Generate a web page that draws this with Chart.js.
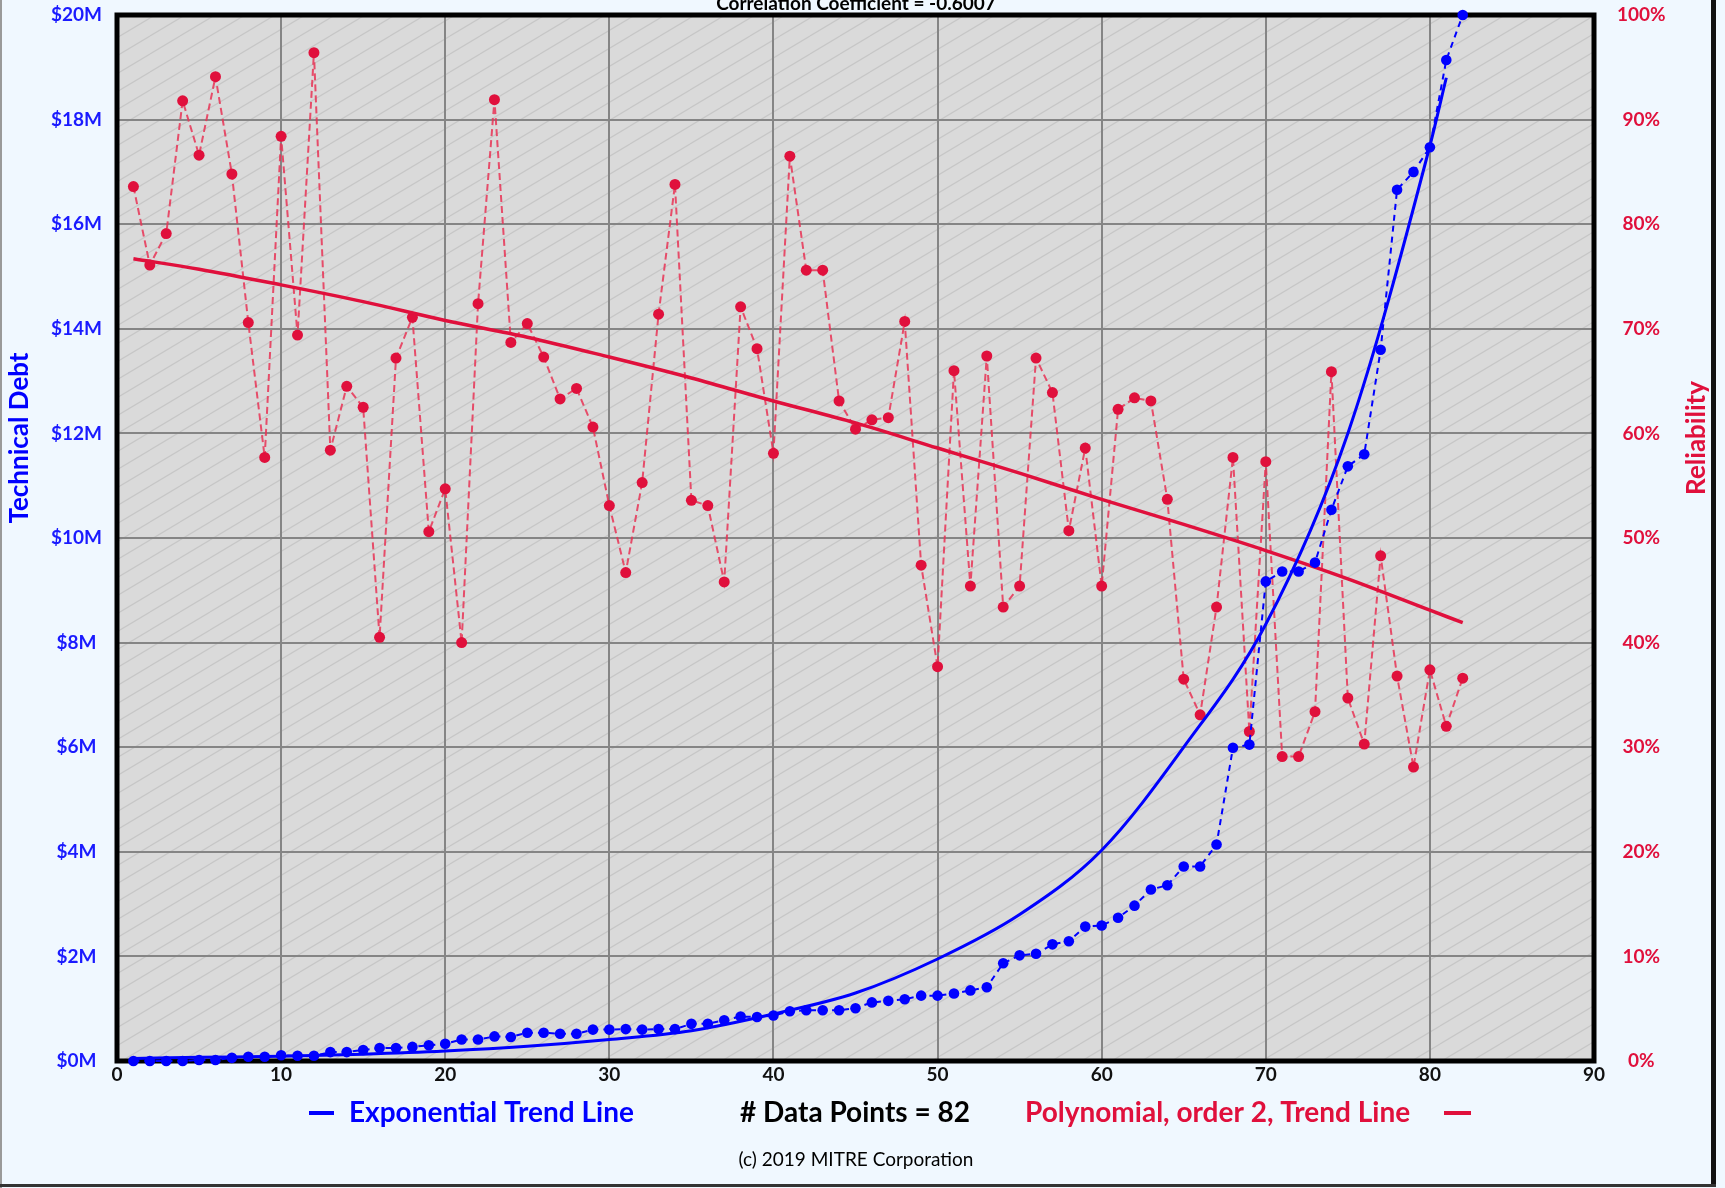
<!DOCTYPE html>
<html>
<head>
<meta charset="utf-8">
<script src="https://cdn.jsdelivr.net/npm/chart.js@4.4.1/dist/chart.umd.min.js"></script>
<style>
  html, body { margin: 0; padding: 0; background: #f0f8ff; }
  canvas { display: block; }
</style>
</head>
<body>
<canvas id="debtChart" width="1725" height="1188"></canvas>
<script>
// ===== data (one value per data point, points numbered 1..82) =====
const debtMillions = [
  0.00, 0.00, 0.00, 0.00, 0.02, 0.02, 0.06, 0.08, 0.08, 0.11,
  0.10, 0.10, 0.17, 0.17, 0.21, 0.25, 0.25, 0.27, 0.30, 0.33,
  0.41, 0.41, 0.47, 0.46, 0.54, 0.54, 0.52, 0.52, 0.60, 0.60,
  0.61, 0.60, 0.61, 0.61, 0.71, 0.71, 0.78, 0.85, 0.84, 0.87,
  0.95, 0.97, 0.97, 0.97, 1.01, 1.12, 1.15, 1.18, 1.25, 1.25,
  1.29, 1.35, 1.41, 1.87, 2.02, 2.05, 2.23, 2.29, 2.57, 2.59,
  2.74, 2.97, 3.28, 3.36, 3.72, 3.72, 4.14, 5.99, 6.05, 9.17,
  9.36, 9.36, 9.53, 10.54, 11.37, 11.60, 13.60, 16.66, 17.00, 17.47,
  19.14, 20.00
];
const reliabilityPct = [
  83.6, 76.1, 79.1, 91.8, 86.6, 94.1, 84.8, 70.6, 57.7, 88.4,
  69.4, 96.4, 58.4, 64.5, 62.5, 40.5, 67.2, 71.1, 50.6, 54.7,
  40.0, 72.4, 91.9, 68.7, 70.5, 67.3, 63.3, 64.3, 60.6, 53.1,
  46.7, 55.3, 71.4, 83.8, 53.6, 53.1, 45.8, 72.1, 68.1, 58.1,
  86.5, 75.6, 75.6, 63.1, 60.4, 61.3, 61.5, 70.7, 47.4, 37.7,
  66.0, 45.4, 67.4, 43.4, 45.4, 67.2, 63.9, 50.7, 58.6, 45.4,
  62.3, 63.4, 63.1, 53.7, 36.5, 33.1, 43.4, 57.7, 31.5, 57.3,
  29.1, 29.1, 33.4, 65.9, 34.7, 30.3, 48.3, 36.8, 28.1, 37.4,
  32.0, 36.6
];

// trend lines at a few x positions
const expTrendX   = [1, 5, 10, 15, 20, 25, 30, 35, 40, 45, 50, 55, 60, 65, 70, 75, 80, 81];
const expTrendVal = [0.05, 0.07, 0.09, 0.13, 0.19, 0.28, 0.41, 0.58, 0.90, 1.30, 1.95, 2.80, 4.03, 6.00, 8.35, 12.0, 17.5, 18.8];
const polyTrendX   = [1, 5, 10, 15, 20, 25, 30, 35, 40, 45, 50, 55, 60, 65, 70, 75, 80, 82];
const polyTrendVal = [76.7, 75.7, 74.2, 72.6, 70.8, 69.2, 67.3, 65.3, 63.1, 61.0, 58.6, 56.2, 53.7, 51.3, 48.8, 46.1, 43.1, 41.9];

// tick labels
const xTickLabels = ['0', '10', '20', '30', '40', '50', '60', '70', '80', '90'];
const debtTickLabels = ['$0M', '$2M', '$4M', '$6M', '$8M', '$10M', '$12M', '$14M', '$16M', '$18M', '$20M'];
const relTickLabels = ['0%', '10%', '20%', '30%', '40%', '50%', '60%', '70%', '80%', '90%', '100%'];

const BLUE = '#0000ff';
const RED = '#e0103c';

function toPoints(xs, ys) {
    return ys.map((v, i) => ({ x: xs ? xs[i] : i + 1, y: v }));
}

// shallow "/" hatch for the plot background
function makeHatch(ctx) {
    const w = 30, h = 18;
    const c = document.createElement('canvas');
    c.width = w; c.height = h;
    const g = c.getContext('2d');
    g.fillStyle = '#dadada';
    g.fillRect(0, 0, w, h);
    g.strokeStyle = '#c6c6c6';
    g.lineWidth = 1.2;
    [-h, 0, h].forEach(off => {
        g.beginPath();
        g.moveTo(0, h + off); g.lineTo(w, off);
        g.stroke();
    });
    return ctx.createPattern(c, 'repeat');
}

const decor = {
    id: 'decor',
    beforeDraw(chart) {
        const { ctx, chartArea: a } = chart;
        ctx.save();
        ctx.fillStyle = '#f0f8ff';
        ctx.fillRect(0, 0, chart.width, chart.height);
        ctx.fillStyle = makeHatch(ctx);
        ctx.fillRect(a.left, a.top, a.right - a.left, a.bottom - a.top);
        ctx.restore();
    },
    beforeDatasetsDraw(chart) {
        const { ctx, chartArea: a } = chart;
        ctx.save();
        ctx.strokeStyle = '#000';
        ctx.lineWidth = 5;
        ctx.strokeRect(a.left, a.top, a.right - a.left, a.bottom - a.top);
        ctx.restore();
    },
    afterDraw(chart) {
        const { ctx, chartArea: a } = chart;
        const midY = (a.top + a.bottom) / 2 - 100;
        ctx.save();

        // title, cut off at the top like the original
        ctx.fillStyle = '#000';
        ctx.font = 'bold 19px Lato';
        ctx.textAlign = 'center';
        ctx.textBaseline = 'alphabetic';
        ctx.fillText('Correlation Coefficient = -0.6007', 856, 10);

        // axis titles (both read bottom to top)
        ctx.font = 'bold 26px Lato';
        ctx.textBaseline = 'middle';
        ctx.fillStyle = BLUE;
        ctx.translate(20, midY);
        ctx.rotate(-Math.PI / 2);
        ctx.fillText('Technical Debt', 0, 0);
        ctx.setTransform(1, 0, 0, 1, 0, 0);
        ctx.fillStyle = RED;
        ctx.translate(1697, midY);
        ctx.rotate(-Math.PI / 2);
        ctx.fillText('Reliability', 0, 0);
        ctx.setTransform(1, 0, 0, 1, 0, 0);

        // legend row
        const ly = 1113;
        ctx.textAlign = 'left';
        ctx.font = 'bold 28px Lato';
        ctx.fillStyle = BLUE;
        ctx.fillRect(309, ly - 2, 25, 4);
        ctx.fillText('Exponential Trend Line', 349, ly);
        ctx.fillStyle = '#000';
        ctx.fillText('# Data Points = 82', 740, ly);
        ctx.fillStyle = RED;
        ctx.fillText('Polynomial, order 2, Trend Line', 1025, ly);
        ctx.fillRect(1444, ly - 2, 27, 4);

        ctx.fillStyle = '#000';
        ctx.font = '19px Lato';
        ctx.textAlign = 'center';
        ctx.fillText('(c) 2019 MITRE Corporation', 856, 1160);

        // outer frame
        ctx.fillStyle = '#9a9a9a';
        ctx.fillRect(0, 0, 2, 1188);
        ctx.fillStyle = '#111';
        ctx.fillRect(1711, 0, 5, 1186);
        ctx.fillStyle = '#333';
        ctx.fillRect(0, 1184, 1716, 3);
        ctx.restore();
    }
};

const tickFont = { family: 'Lato', weight: 'bold', size: 19 };

new Chart(document.getElementById('debtChart'), {
    type: 'line',
    data: {
        datasets: [
            {
                label: 'Exponential Trend Line',
                data: toPoints(expTrendX, expTrendVal),
                yAxisID: 'yDebt',
                borderColor: BLUE,
                borderWidth: 3,
                pointRadius: 0,
                cubicInterpolationMode: 'monotone',
                order: 0
            },
            {
                label: 'Technical Debt',
                data: toPoints(null, debtMillions),
                yAxisID: 'yDebt',
                borderColor: BLUE,
                borderWidth: 2,
                borderDash: [6, 5],
                pointRadius: 5.3,
                pointBackgroundColor: BLUE,
                pointBorderWidth: 0,
                clip: false,
                order: 1
            },
            {
                label: 'Polynomial, order 2, Trend Line',
                data: toPoints(polyTrendX, polyTrendVal),
                yAxisID: 'yRel',
                borderColor: RED,
                borderWidth: 3.5,
                pointRadius: 0,
                cubicInterpolationMode: 'monotone',
                order: 2
            },
            {
                label: 'Reliability',
                data: toPoints(null, reliabilityPct),
                yAxisID: 'yRel',
                borderColor: 'rgba(232, 50, 85, 0.85)',
                borderWidth: 2,
                borderDash: [7, 4],
                pointRadius: 5.5,
                pointBackgroundColor: RED,
                pointBorderWidth: 0,
                clip: false,
                order: 3
            }
        ]
    },
    options: {
        responsive: false,
        animation: false,
        devicePixelRatio: 1,
        layout: { padding: { top: 15, left: 0, right: 0, bottom: 0 } },
        plugins: { legend: { display: false }, tooltip: { enabled: false } },
        scales: {
            x: {
                type: 'linear', min: 0, max: 90,
                ticks: { stepSize: 10, color: '#111', font: tickFont, padding: 2, maxRotation: 0,
                         callback: v => xTickLabels[v / 10] },
                grid: { color: '#858585', lineWidth: 2, drawTicks: false },
                border: { display: false },
                afterFit: s => { s.height = 127; }
            },
            yDebt: {
                position: 'left', min: 0, max: 20,
                ticks: { stepSize: 2, color: '#1a1aff', font: tickFont, crossAlign: 'center', padding: 0,
                         callback: v => debtTickLabels[v / 2] },
                grid: { color: '#858585', lineWidth: 2, drawTicks: true, tickLength: 15, tickColor: 'transparent' },
                border: { display: false },
                afterFit: s => { s.width = 117; }
            },
            yRel: {
                position: 'right', min: 0, max: 100,
                ticks: { stepSize: 10, color: RED, font: tickFont, crossAlign: 'center', padding: 0,
                         callback: v => relTickLabels[v / 10] },
                grid: { drawOnChartArea: false, drawTicks: true, tickLength: 23, tickColor: 'transparent' },
                border: { display: false },
                afterFit: s => { s.width = 131; }
            }
        }
    },
    plugins: [decor]
});
</script>
</body>
</html>
